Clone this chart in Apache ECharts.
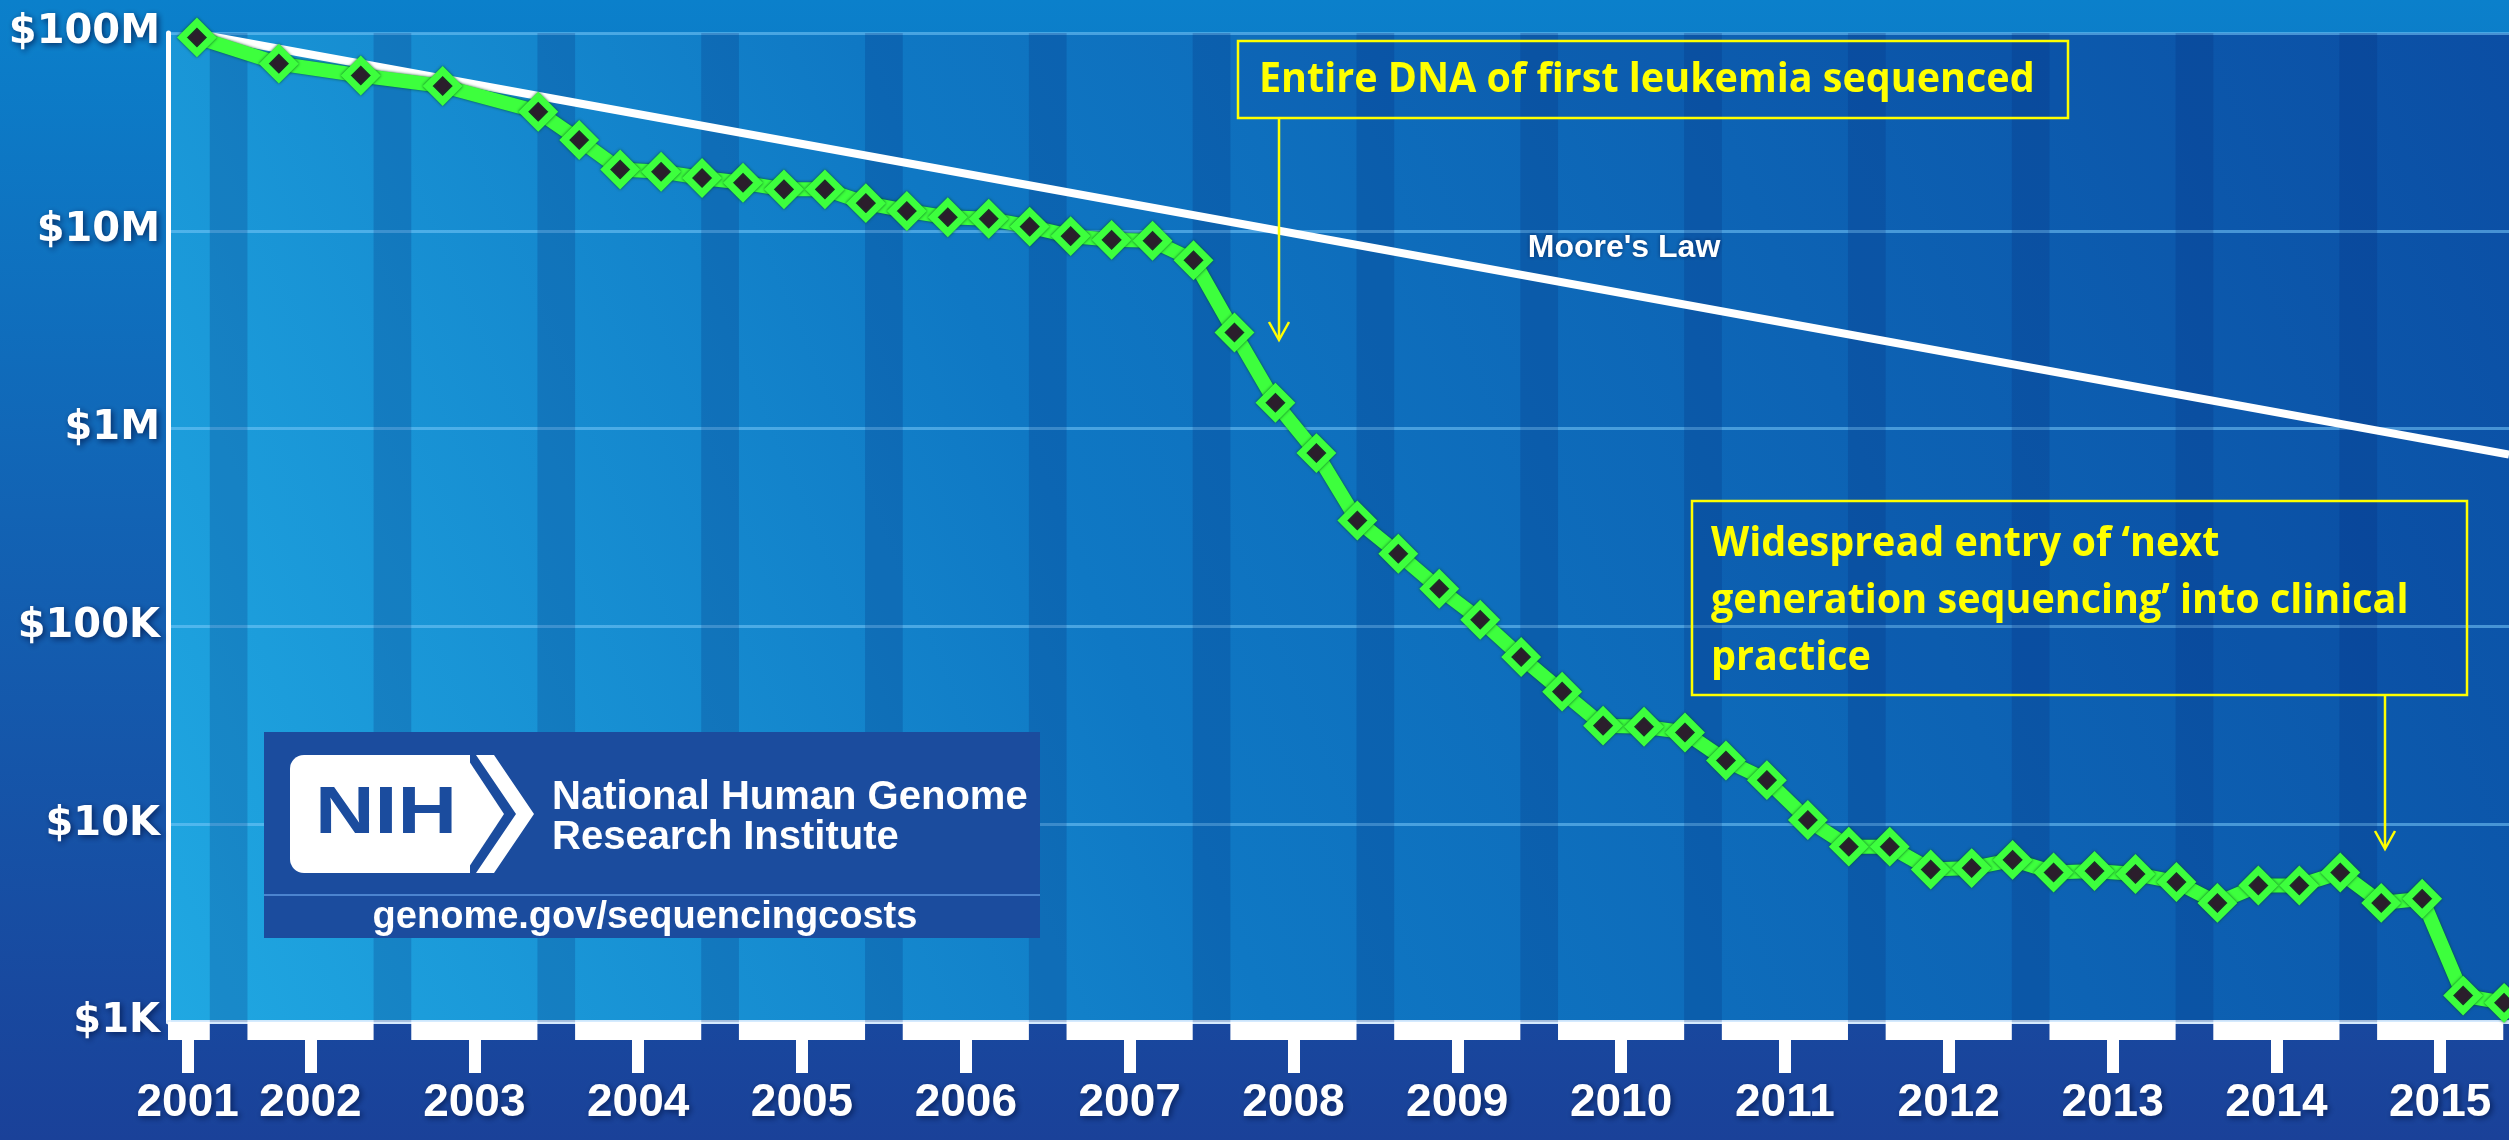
<!DOCTYPE html>
<html>
<head>
<meta charset="utf-8">
<title>Cost per Genome</title>
<script src="https://cdn.jsdelivr.net/npm/echarts@6/dist/echarts.min.js"></script>
<style>
  html, body { margin: 0; padding: 0; background: #1a4a9e; }
  #main { width: 2509px; height: 1140px; }
</style>
</head>
<body>
<div id="main"></div>
<script>
// sampling dates (year-month) and cost per genome (USD)
var dates = [
  '2001-09', '2002-03', '2002-09', '2003-03', '2003-10',
  '2004-01', '2004-04', '2004-07', '2004-10',
  '2005-01', '2005-04', '2005-07', '2005-10',
  '2006-01', '2006-04', '2006-07', '2006-10',
  '2007-01', '2007-04', '2007-07', '2007-10',
  '2008-01', '2008-04', '2008-07', '2008-10',
  '2009-01', '2009-04', '2009-07', '2009-10',
  '2010-01', '2010-04', '2010-07', '2010-10',
  '2011-01', '2011-04', '2011-07', '2011-10',
  '2012-01', '2012-04', '2012-07', '2012-10',
  '2013-01', '2013-04', '2013-07', '2013-10',
  '2014-01', '2014-04', '2014-07', '2014-10',
  '2015-01', '2015-04', '2015-07', '2015-10'
];
var cost = [
  95e6, 70e6, 61e6, 54e6, 40e6,
  28.8e6, 20.4e6, 19.9e6, 18.5e6,
  17.5e6, 16.2e6, 16.2e6, 13.8e6,
  12.6e6, 11.7e6, 11.5e6, 10.5e6,
  9.4e6, 9.0e6, 8.9e6, 7.1e6,
  3.06e6, 1.35e6, 752e3, 343e3,
  233e3, 155e3, 108e3, 70e3,
  46.8e3, 31.5e3, 31.1e3, 29.1e3,
  21e3, 16.7e3, 10.5e3, 7.7e3,
  7.7e3, 5.9e3, 6.0e3, 6.6e3,
  5.7e3, 5.8e3, 5.6e3, 5.1e3,
  4.0e3, 4.9e3, 4.9e3, 5.7e3,
  4.0e3, 4.2e3, 1.36e3, 1.25e3
];
// Moore's law reference line (two end points)
var mooreYears = [2001.64, 2015.78];
var mooreCost = [1e8, 7.4e5];

var years = [2001, 2002, 2003, 2004, 2005, 2006, 2007, 2008, 2009, 2010, 2011, 2012, 2013, 2014, 2015];
var yLabels = ['$1K', '$10K', '$100K', '$1M', '$10M', '$100M'];

var xMin = 2001.49, xMax = 2015.78;

function toYear(s) {
  var p = s.split('-');
  return +p[0] + (p[1] - 1) / 12;
}

var tickPos = years.map(function (y) { return y === 2001 ? 2001.61 : y + 0.36; });
var stripes = years.slice(0, -1).map(function (y) { return [y + 0.745, y + 0.975, 1000]; });
var segments = years.map(function (y) { return [Math.max(y - 0.025, xMin), y + 0.745, 1000]; });

var chart = echarts.init(document.getElementById('main'));

var labelShadow = {
  textShadowColor: 'rgba(0,20,70,0.75)',
  textShadowBlur: 6,
  textShadowOffsetX: 2,
  textShadowOffsetY: 2
};
var yellowFont = { fill: '#ffff00', fontSize: 42, fontWeight: 'bold', fontFamily: '"Open Sans", sans-serif', verticalAlign: 'middle' };

function stripeItem(params, api) {
  var a = api.coord([api.value(0), 1000]);
  var b = api.coord([api.value(1), 1000]);
  var cs = params.coordSys;
  var shape = echarts.graphic.clipRectByRect(
    { x: a[0], y: cs.y, width: b[0] - a[0], height: cs.height },
    { x: cs.x, y: cs.y, width: cs.width, height: cs.height }
  );
  return shape && { type: 'rect', shape: shape, style: { fill: 'rgba(6,40,120,0.22)' } };
}

function segmentItem(params, api) {
  var a = api.coord([api.value(0), 1000]);
  var b = api.coord([api.value(1), 1000]);
  var cs = params.coordSys;
  var x0 = Math.max(a[0], cs.x), x1 = Math.min(b[0], cs.x + cs.width);
  return {
    type: 'rect',
    shape: { x: x0, y: cs.y + cs.height, width: x1 - x0, height: 18 },
    style: { fill: '#ffffff' }
  };
}

var option = {
  animation: false,
  backgroundColor: new echarts.graphic.LinearGradient(0, 0, 0, 1, [
    { offset: 0, color: '#0b80cb' },
    { offset: 0.45, color: '#1263b4' },
    { offset: 1, color: '#1a4199' }
  ]),
  grid: {
    left: 168, right: 0, top: 33, bottom: 118,
    show: true, borderWidth: 0,
    backgroundColor: new echarts.graphic.LinearGradient(0, 1, 1, 0, [
      { offset: 0, color: '#20a8e2' },
      { offset: 0.4, color: '#0f78c4' },
      { offset: 1, color: '#0b4ea4' }
    ])
  },
  xAxis: {
    type: 'value', min: xMin, max: xMax,
    splitLine: { show: false },
    axisLine: { lineStyle: { color: 'rgba(225,240,255,0.9)', width: 4 } },
    axisTick: { customValues: tickPos, length: 51, lineStyle: { color: '#ffffff', width: 12 } },
    axisLabel: Object.assign({
      customValues: tickPos,
      formatter: function (v) { return String(Math.floor(v)); },
      color: '#ffffff', fontSize: 46, fontWeight: 'bold',
      fontFamily: '"Liberation Sans", Arial, sans-serif',
      margin: 58
    }, labelShadow)
  },
  yAxis: {
    type: 'log', logBase: 10, min: 1000, max: 1e8,
    axisLine: { show: true, lineStyle: { color: '#ffffff', width: 5 } },
    axisTick: { show: false },
    splitLine: { lineStyle: { color: 'rgba(120,200,250,0.55)', width: 3 } },
    axisLabel: Object.assign({
      formatter: function (v) { return yLabels[Math.round(Math.log10(v)) - 3]; },
      color: '#ffffff', fontSize: 40, fontWeight: 'bold',
      fontFamily: '"DejaVu Sans", sans-serif',
      margin: 8
    }, labelShadow)
  },
  series: [
    {
      type: 'custom', silent: true, renderItem: stripeItem,
      data: stripes, encode: { x: [0, 1], y: 2 }, z: 1
    },
    {
      type: 'custom', silent: true, renderItem: segmentItem, clip: false,
      data: segments, encode: { x: [0, 1], y: 2 }, z: 2
    },
    {
      name: "Moore's Law", type: 'line', symbol: 'none', z: 3,
      data: mooreYears.map(function (x, i) { return [x, mooreCost[i]]; }),
      lineStyle: { color: '#ffffff', width: 8 }
    },
    {
      name: 'Cost per Genome', type: 'line', z: 5,
      data: dates.map(function (d, i) { return [toYear(d), cost[i]]; }),
      symbol: 'diamond', symbolSize: 30, showAllSymbol: true,
      lineStyle: { color: '#3dff3d', width: 14, shadowColor: 'rgba(0,80,30,0.9)', shadowBlur: 3 },
      itemStyle: { color: '#2b1e2c', borderColor: '#3dff3d', borderWidth: 7, shadowColor: 'rgba(0,80,30,0.9)', shadowBlur: 3 }
    }
  ],
  graphic: [
    // Moore's law caption
    {
      type: 'text', x: 1624, y: 248, z: 10,
      style: {
        text: "Moore's Law", fill: '#ffffff', fontSize: 32, fontWeight: 'bold',
        fontFamily: '"Liberation Sans", Arial, sans-serif', align: 'center', verticalAlign: 'middle',
        textShadowColor: 'rgba(0,20,70,0.6)', textShadowBlur: 4
      }
    },
    // NIH logo block
    { type: 'rect', z: 10, shape: { x: 264, y: 732, width: 776, height: 206 }, style: { fill: '#1b4c9e' } },
    { type: 'line', z: 11, shape: { x1: 264, y1: 895, x2: 1040, y2: 895 }, style: { stroke: 'rgba(110,170,240,0.6)', lineWidth: 2 } },
    { type: 'rect', z: 11, shape: { x: 290, y: 755, width: 180, height: 118, r: [14, 0, 0, 14] }, style: { fill: '#ffffff' } },
    { type: 'polygon', z: 11, shape: { points: [[465, 755], [504, 814], [465, 873], [460, 873], [460, 755]] }, style: { fill: '#ffffff' } },
    { type: 'polygon', z: 11, shape: { points: [[476, 755], [494, 755], [534, 814], [494, 873], [476, 873], [516, 814]] }, style: { fill: '#ffffff' } },
    {
      type: 'text', x: 386, y: 815, scaleX: 1.25, z: 12,
      style: { text: 'NIH', fill: '#1b4c9e', fontSize: 66, fontWeight: 'bold', fontFamily: '"Liberation Sans", Arial, sans-serif', align: 'center', verticalAlign: 'middle' }
    },
    {
      type: 'text', x: 552, y: 798, z: 12,
      style: { text: 'National Human Genome', fill: '#ffffff', fontSize: 40, fontWeight: 'bold', fontFamily: '"Liberation Sans", Arial, sans-serif', verticalAlign: 'middle' }
    },
    {
      type: 'text', x: 552, y: 838, z: 12,
      style: { text: 'Research Institute', fill: '#ffffff', fontSize: 40, fontWeight: 'bold', fontFamily: '"Liberation Sans", Arial, sans-serif', verticalAlign: 'middle' }
    },
    {
      type: 'text', x: 645, y: 918, z: 12,
      style: { text: 'genome.gov/sequencingcosts', fill: '#ffffff', fontSize: 38, fontWeight: 'bold', fontFamily: '"Liberation Sans", Arial, sans-serif', align: 'center', verticalAlign: 'middle' }
    },
    // leukemia annotation
    { type: 'rect', z: 10, shape: { x: 1238, y: 41, width: 830, height: 77 }, style: { fill: 'rgba(10,40,130,0.12)', stroke: '#ffff00', lineWidth: 2.5 } },
    {
      type: 'text', x: 1259, y: 80, scaleX: 0.94, z: 11,
      style: Object.assign({ text: 'Entire DNA of first leukemia sequenced' }, yellowFont)
    },
    { type: 'line', z: 11, shape: { x1: 1279, y1: 118, x2: 1279, y2: 339 }, style: { stroke: '#ffff00', lineWidth: 2.5 } },
    { type: 'polyline', z: 11, shape: { points: [[1269, 322], [1279, 340], [1289, 322]] }, style: { stroke: '#ffff00', lineWidth: 2.5, fill: null } },
    // NGS annotation
    { type: 'rect', z: 10, shape: { x: 1692, y: 501, width: 775, height: 194 }, style: { fill: 'rgba(10,40,130,0.12)', stroke: '#ffff00', lineWidth: 2.5 } },
    {
      type: 'text', x: 1711, y: 544, scaleX: 0.94, z: 11,
      style: Object.assign({ text: 'Widespread entry of \u2018next' }, yellowFont)
    },
    {
      type: 'text', x: 1711, y: 601, scaleX: 0.94, z: 11,
      style: Object.assign({ text: 'generation sequencing\u2019 into clinical' }, yellowFont)
    },
    {
      type: 'text', x: 1711, y: 658, scaleX: 0.94, z: 11,
      style: Object.assign({ text: 'practice' }, yellowFont)
    },
    { type: 'line', z: 11, shape: { x1: 2385, y1: 695, x2: 2385, y2: 848 }, style: { stroke: '#ffff00', lineWidth: 2.5 } },
    { type: 'polyline', z: 11, shape: { points: [[2375, 831], [2385, 849], [2395, 831]] }, style: { stroke: '#ffff00', lineWidth: 2.5, fill: null } }
  ]
};

chart.setOption(option);
</script>
</body>
</html>
